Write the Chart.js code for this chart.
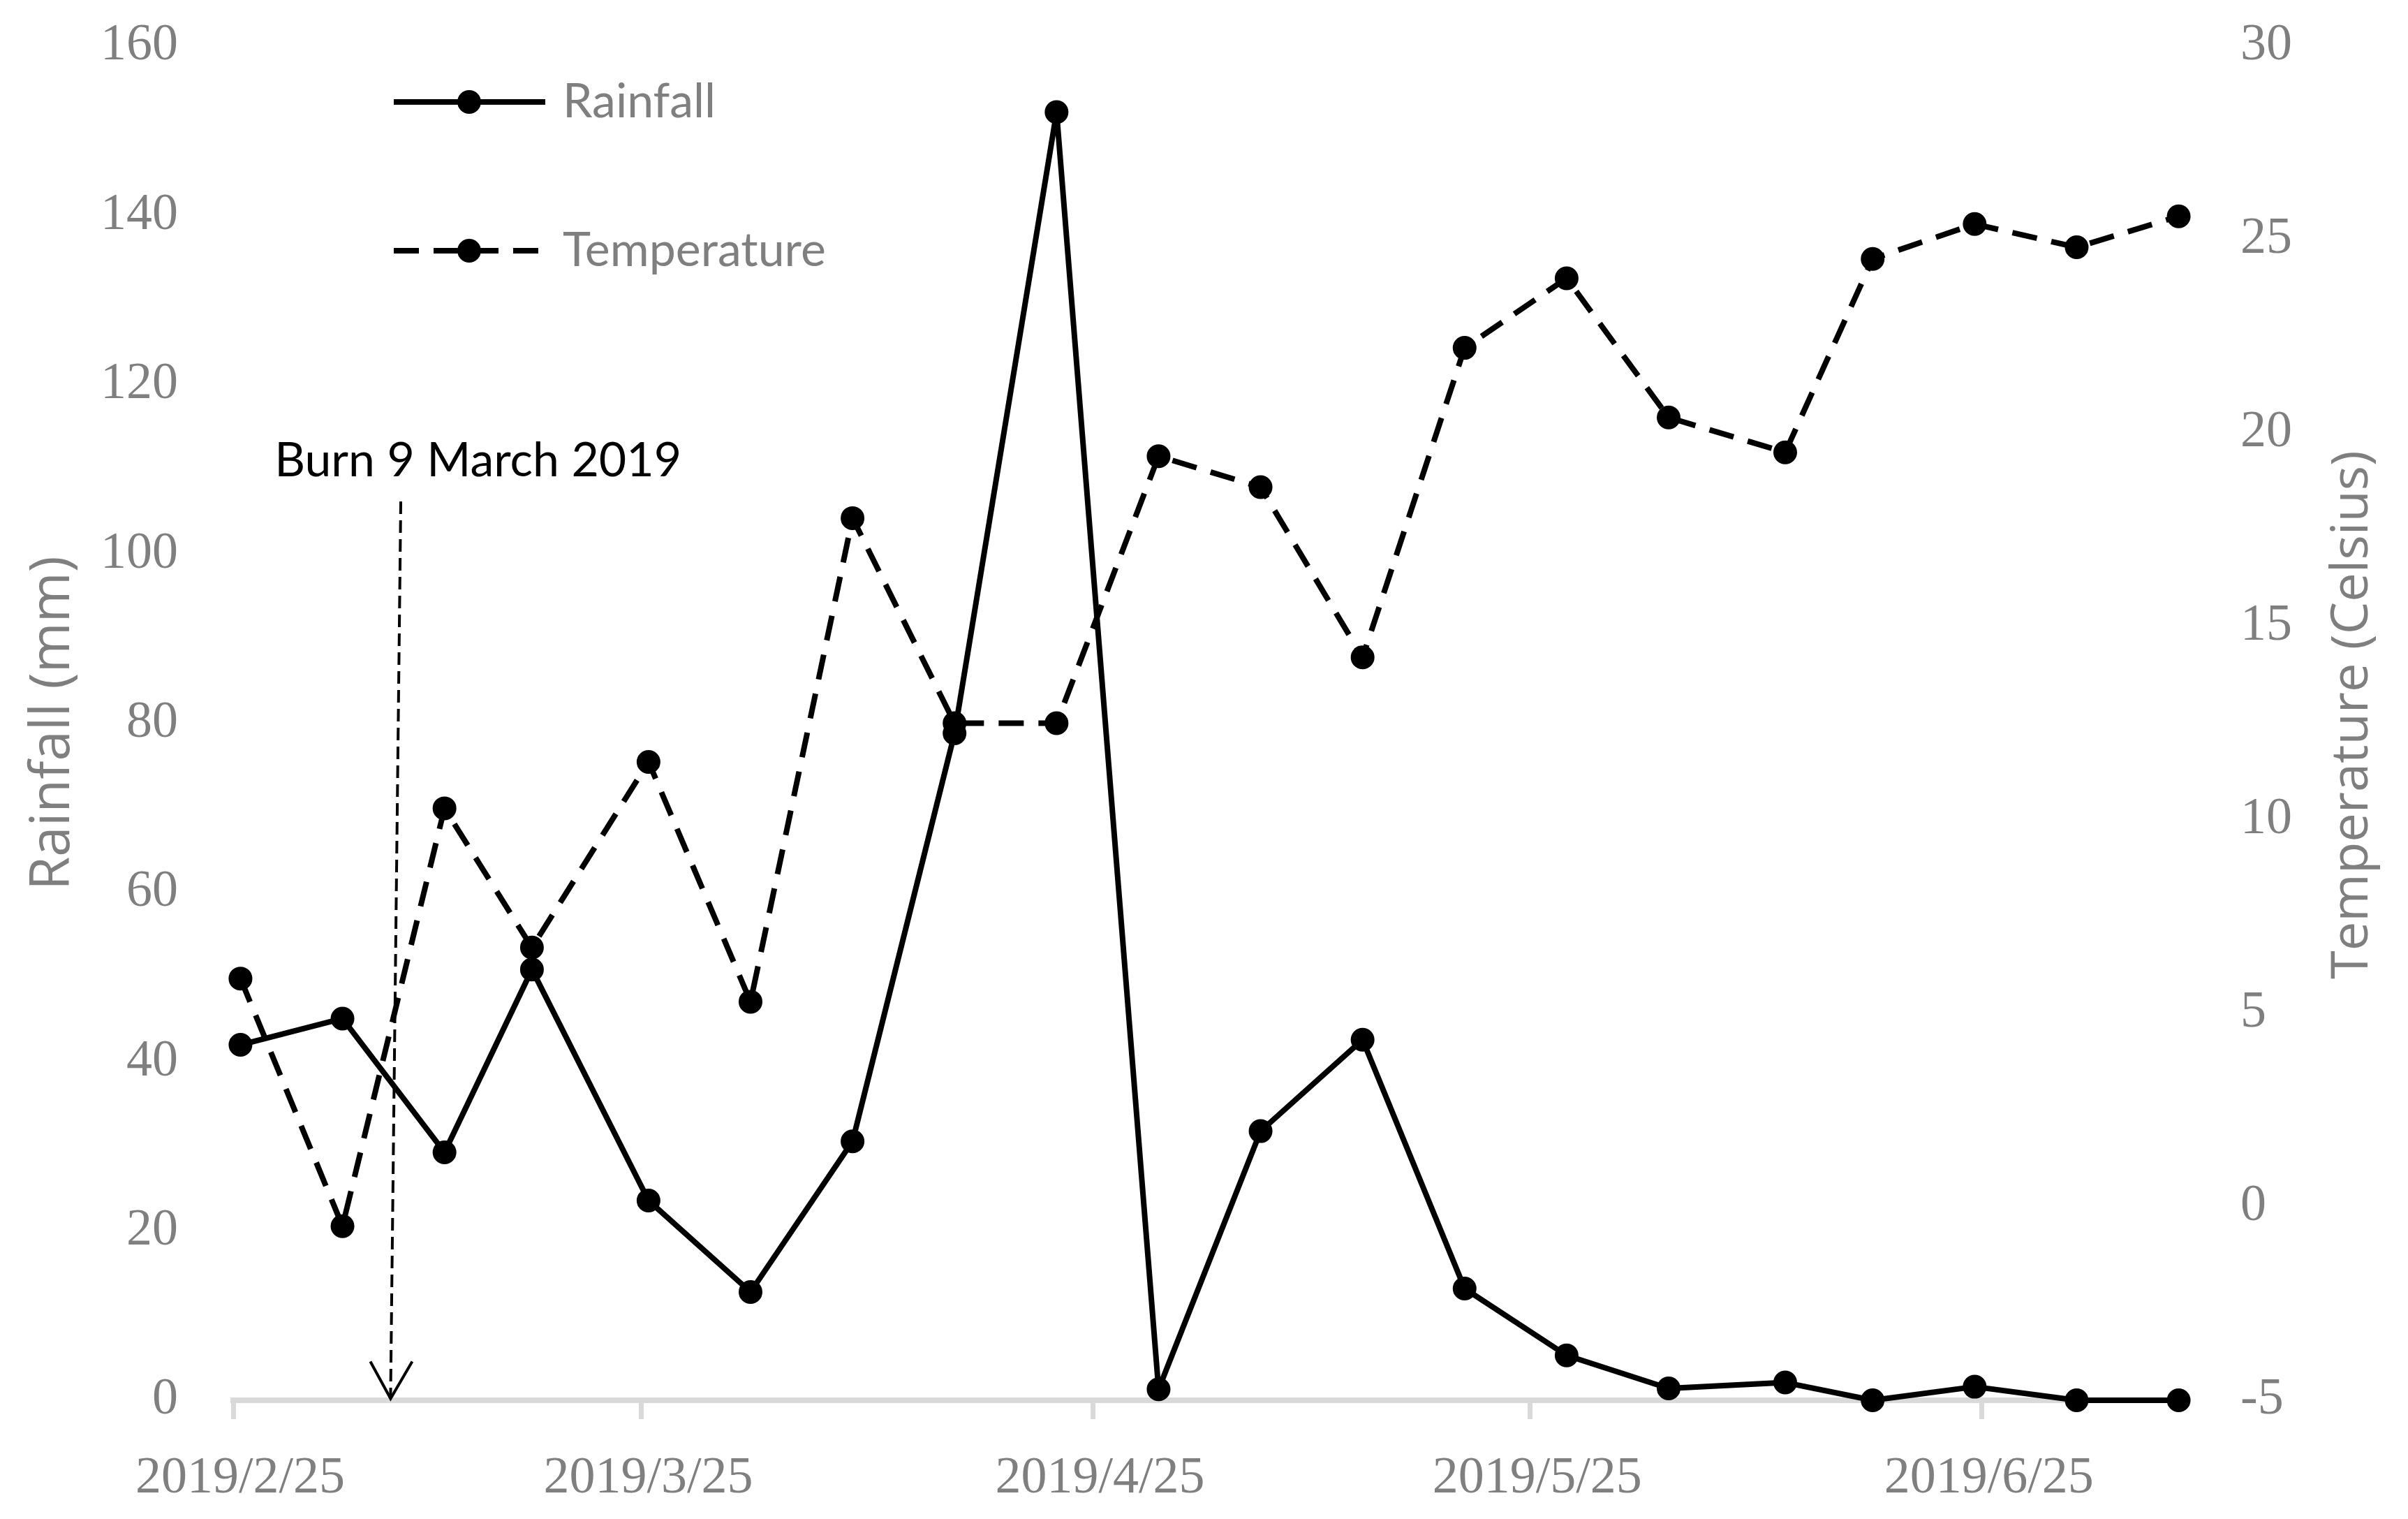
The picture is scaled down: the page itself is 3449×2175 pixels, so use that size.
<!DOCTYPE html>
<html>
<head>
<meta charset="utf-8">
<script src="https://cdn.jsdelivr.net/npm/chart.js@4.4.1/dist/chart.umd.min.js"></script>
<style>
  html, body { margin: 0; padding: 0; background: #ffffff; }
  #wrap { width: 3449px; height: 2175px; }
</style>
</head>
<body>
<div id="wrap"><canvas id="c" width="3449" height="2175"></canvas></div>
<script>
// ---------------- data ----------------
const sampleDates = [
  '2019-02-25', '2019-03-04', '2019-03-11', '2019-03-17', '2019-03-25',
  '2019-04-01', '2019-04-08', '2019-04-15', '2019-04-22', '2019-04-29',
  '2019-05-06', '2019-05-13', '2019-05-20', '2019-05-27', '2019-06-03',
  '2019-06-11', '2019-06-17', '2019-06-24', '2019-07-01', '2019-07-08'
];
const rainfall = [
  42.0, 45.1, 29.3, 50.9, 23.6, 12.8, 30.6, 78.8, 152.2, 1.3,
  31.8, 42.6, 13.2, 5.3, 1.4, 2.1, 0, 1.6, 0, 0
];
const temperature = [
  5.9, -0.5, 10.3, 6.7, 11.5, 5.3, 17.8, 12.5, 12.5, 19.4,
  18.6, 14.2, 22.2, 24.0, 20.4, 19.5, 24.5, 25.4, 24.8, 25.6
];
const xTickDates = ['2019-02-25', '2019-03-25', '2019-04-25', '2019-05-25', '2019-06-25'];
const xAxisStart = '2019-02-25';
const xAxisEnd = '2019-07-09';
const rainfallTicks = [0, 20, 40, 60, 80, 100, 120, 140, 160];
const temperatureTicks = [-5, 0, 5, 10, 15, 20, 25, 30];
const seriesNames = ['Rainfall', 'Temperature'];
const axisTitles = ['Rainfall (mm)', 'Temperature (Celsius)'];
const burnLabel = 'Burn 9 March 2019';

// ---------------- helpers ----------------
const DAY = 86400000;
function dayOf(s) {
  const [y, m, d] = s.split('-').map(Number);
  return (Date.UTC(y, m - 1, d) - Date.UTC(2019, 1, 25)) / DAY;
}
function fmtDay(v) {
  const dt = new Date(Date.UTC(2019, 1, 25) + Math.round(v) * DAY);
  return dt.getUTCFullYear() + '/' + (dt.getUTCMonth() + 1) + '/' + dt.getUTCDate();
}
// Excel date axis: each point sits in the middle of its day
const HALF_DAY = 0.5;
const rainPts = sampleDates.map((d, i) => ({ x: dayOf(d) + HALF_DAY, y: rainfall[i] }));
const tempPts = sampleDates.map((d, i) => ({ x: dayOf(d) + HALF_DAY, y: temperature[i] }));

const GRAY = '#7f7f7f';
const AXIS_GRAY = '#d9d9d9';
const SERIF = '"Liberation Serif", "Times New Roman", serif';
const SANS = 'Lato, "Open Sans", sans-serif';
const TITLE_SANS = '"Open Sans", "Noto Sans", sans-serif';
const LINE_W = 8;
const DASH = [36, 21];
const PT_R = 16;

// ---------------- overlay plugin: legend, right title, burn annotation ----------------
const overlay = {
  id: 'overlay',
  afterDraw(chart) {
    const { ctx, chartArea, scales } = chart;
    const x = scales.x, y = scales.y;
    ctx.save();

    // legend
    const lx0 = chartArea.left + 230, lx1 = chartArea.left + 447, lmx = chartArea.left + 338;
    const rows = [
      { y: 146, dash: [], name: seriesNames[0] },
      { y: 359, dash: DASH, name: seriesNames[1] }
    ];
    rows.forEach(r => {
      ctx.strokeStyle = '#000';
      ctx.lineWidth = LINE_W;
      ctx.setLineDash(r.dash);
      ctx.lineCap = 'butt';
      ctx.beginPath(); ctx.moveTo(lx0, r.y); ctx.lineTo(lx1, r.y); ctx.stroke();
      ctx.setLineDash([]);
      ctx.fillStyle = '#000';
      ctx.beginPath(); ctx.arc(lmx, r.y, PT_R + 1, 0, Math.PI * 2); ctx.fill();
      ctx.fillStyle = GRAY;
      ctx.font = '68px ' + SANS;
      ctx.textAlign = 'left';
      ctx.textBaseline = 'middle';
      ctx.fillText(r.name, chartArea.left + 472, r.y);
    });

    // right axis title (reads bottom to top)
    ctx.save();
    ctx.translate(3370, (chartArea.top + chartArea.bottom) / 2 - 12);
    ctx.rotate(-Math.PI / 2);
    ctx.fillStyle = GRAY;
    ctx.font = '74px ' + TITLE_SANS;
    ctx.textAlign = 'center';
    ctx.textBaseline = 'middle';
    ctx.fillText(axisTitles[1], 0, 0);
    ctx.restore();

    // burn annotation (positioned in data units)
    const tx = x.getPixelForValue(16.8), ty = y.getPixelForValue(111);
    ctx.fillStyle = '#000';
    ctx.font = '68px ' + SANS;
    ctx.textAlign = 'center';
    ctx.textBaseline = 'middle';
    ctx.fillText(burnLabel, tx, ty);

    const ax0 = x.getPixelForValue(11.5), ay0 = y.getPixelForValue(106.2);
    const ax1 = x.getPixelForValue(10.8), ay1 = y.getPixelForValue(0.2);
    ctx.strokeStyle = '#000';
    ctx.lineWidth = 4;
    ctx.setLineDash([18, 9]);
    ctx.beginPath(); ctx.moveTo(ax0, ay0); ctx.lineTo(ax1, ay1 - 4); ctx.stroke();
    ctx.setLineDash([]);
    ctx.lineWidth = 4;
    ctx.beginPath();
    ctx.moveTo(ax1 - 29, ay1 - 53);
    ctx.lineTo(ax1, ay1);
    ctx.lineTo(ax1 + 31, ay1 - 53);
    ctx.stroke();

    ctx.restore();
  }
};

// ---------------- chart ----------------
new Chart(document.getElementById('c'), {
  type: 'line',
  data: {
    datasets: [
      {
        label: seriesNames[1],
        data: tempPts,
        yAxisID: 'y1',
        borderColor: '#000',
        backgroundColor: '#000',
        borderWidth: LINE_W,
        borderDash: DASH,
        borderJoinStyle: 'round',
        pointRadius: PT_R,
        pointBorderWidth: 2,
        pointBackgroundColor: '#000',
        pointBorderColor: '#000',
        tension: 0,
        fill: false,
        clip: false,
        order: 0
      },
      {
        label: seriesNames[0],
        data: rainPts,
        yAxisID: 'y',
        borderColor: '#000',
        backgroundColor: '#000',
        borderWidth: LINE_W,
        borderJoinStyle: 'round',
        pointRadius: PT_R,
        pointBorderWidth: 2,
        pointBackgroundColor: '#000',
        pointBorderColor: '#000',
        tension: 0,
        fill: false,
        clip: false,
        order: 1
      }
    ]
  },
  options: {
    responsive: false,
    animation: false,
    devicePixelRatio: 1,
    layout: { padding: { top: 66, left: 0, right: 0, bottom: 0 } },
    plugins: { legend: { display: false }, tooltip: { enabled: false } },
    scales: {
      x: {
        type: 'linear',
        position: 'bottom',
        min: dayOf(xAxisStart),
        max: dayOf(xAxisEnd),
        afterBuildTicks: s => { s.ticks = xTickDates.map(d => ({ value: dayOf(d) })); },
        afterFit: s => { s.height = 170; s.paddingLeft = 0; s.paddingRight = 0; },
        grid: { display: true, drawOnChartArea: false, drawTicks: true, tickLength: 27, color: AXIS_GRAY, lineWidth: 7 },
        border: { display: true, color: AXIS_GRAY, width: 8 },
        ticks: {
          callback: v => fmtDay(v),
          font: { family: SERIF, size: 74 },
          color: GRAY,
          padding: 41,
          labelOffset: 10,
          maxRotation: 0,
          autoSkip: false
        }
      },
      y: {
        position: 'left',
        min: 0,
        max: 160,
        afterBuildTicks: s => { s.ticks = rainfallTicks.map(v => ({ value: v })); },
        afterFit: s => { s.width = 334; s.paddingTop = 0; s.paddingBottom = 0; },
        grid: { display: false, drawTicks: false },
        border: { display: false },
        ticks: { font: { family: SERIF, size: 74 }, color: GRAY, padding: 79 },
        title: {
          display: true,
          text: axisTitles[0],
          font: { family: TITLE_SANS, size: 78 },
          color: GRAY,
          padding: { top: 30, bottom: 0 }
        }
      },
      y1: {
        position: 'right',
        min: -5,
        max: 30,
        afterBuildTicks: s => { s.ticks = temperatureTicks.map(v => ({ value: v })); },
        afterFit: s => { s.width = 318; s.paddingTop = 0; s.paddingBottom = 0; },
        grid: { display: false, drawTicks: false },
        border: { display: false },
        ticks: { font: { family: SERIF, size: 74 }, color: GRAY, padding: 78 }
      }
    }
  },
  plugins: [overlay]
});
</script>
</body>
</html>
